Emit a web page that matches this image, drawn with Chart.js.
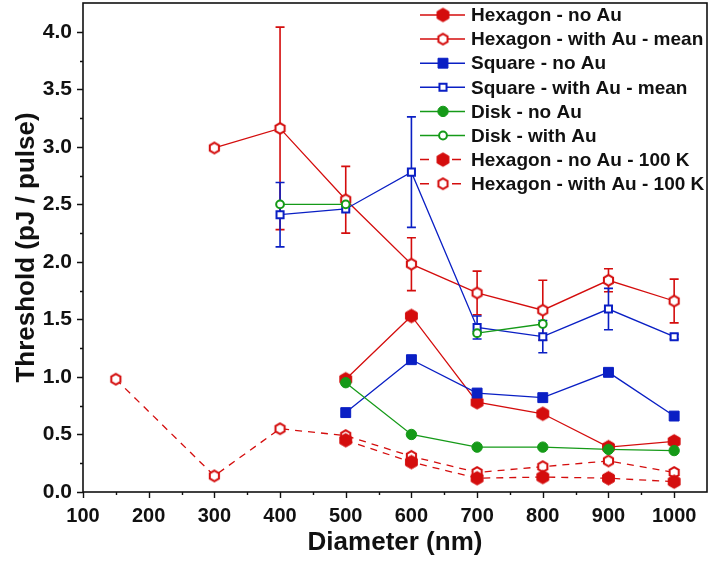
<!DOCTYPE html>
<html>
<head>
<meta charset="utf-8">
<script src="https://cdn.jsdelivr.net/npm/chart.js@4.4.1/dist/chart.umd.min.js"></script>
<style>
  html, body { margin: 0; padding: 0; background: #fff; }
</style>
</head>
<body>
<canvas id="threshold" width="709" height="565"></canvas>
<script>
// diameters shared by most series (nm)
const diam = [500, 600, 700, 800, 900, 1000];

// hexagon, no Au
const hexNoAu = [0.98, 1.53, 0.78, 0.68, 0.39, 0.44];
// hexagon with Au (mean +- error)
const hexAuX = [300, 400, 500, 600, 700, 800, 900, 1000];
const hexAu = [2.99, 3.16, 2.54, 1.98, 1.73, 1.58, 1.84, 1.66];
const hexAuErr = [0, 0.88, 0.29, 0.23, 0.19, 0.26, 0.10, 0.19];
// square, no Au
const sqNoAu = [0.69, 1.15, 0.86, 0.82, 1.04, 0.66];
// square with Au (mean +- error)
const sqAuX = [400, 500, 600, 700, 800, 900, 1000];
const sqAu = [2.41, 2.46, 2.78, 1.43, 1.35, 1.59, 1.35];
const sqAuErr = [0.28, 0, 0.48, 0.10, 0.14, 0.18, 0.02];
// disk
const diskNoAu = [0.95, 0.50, 0.39, 0.39, 0.37, 0.36];
const diskAuX = [400, 500, 600, 700, 800];
const diskAu = [2.50, 2.50, null, 1.38, 1.46];
// hexagon at 100 K
const hex100NoAu = [0.45, 0.26, 0.12, 0.13, 0.12, 0.09];
const hex100AuX = [150, 300, 400, 500, 600, 700, 800, 900, 1000];
const hex100Au = [0.98, 0.14, 0.55, 0.49, 0.31, 0.17, 0.22, 0.27, 0.17];

const xTicks = [100, 200, 300, 400, 500, 600, 700, 800, 900, 1000];
const yTicks = [0, 0.5, 1.0, 1.5, 2.0, 2.5, 3.0, 3.5, 4.0];

const RED = '#d40d0d';
const BLUE = '#0a1fc4';
const GREEN = '#159a18';
const FONT = '"Liberation Sans", Arial, sans-serif';

function pts(xs, ys) {
    return xs.map((x, i) => ({ x: x, y: ys[i] }));
}

// hexagon marker with vertices at top and bottom
function hexagon(r, color, filled) {
    let lw = filled ? 1 : 2;
    let size = Math.ceil(2 * r + lw + 2);
    let c = document.createElement('canvas');
    c.width = size;
    c.height = size;
    let g = c.getContext('2d');
    g.beginPath();
    for (let k = 0; k < 6; k++) {
        let a = Math.PI / 2 + k * Math.PI / 3;
        let px = size / 2 + r * Math.cos(a);
        let py = size / 2 - r * Math.sin(a);
        if (k == 0) g.moveTo(px, py); else g.lineTo(px, py);
    }
    g.closePath();
    g.fillStyle = filled ? color : '#fff';
    g.fill();
    g.lineWidth = lw;
    g.strokeStyle = color;
    g.stroke();
    return c;
}

const hexFull = hexagon(6.8, RED, true);
const hexOpen = hexagon(5.3, RED, false);

function series(label, data, color, style, radius, fill, opts) {
    return Object.assign({
        label: label,
        data: data,
        borderColor: color,
        backgroundColor: fill,
        pointBackgroundColor: fill,
        pointBorderColor: color,
        pointBorderWidth: fill == '#fff' ? 2 : 1,
        pointStyle: style,
        pointRadius: radius,
        pointHoverRadius: radius,
        borderWidth: 1.3,
        tension: 0,
        spanGaps: false,
        fill: false
    }, opts || {});
}

const datasets = [
    series('Hexagon - no Au', pts(diam, hexNoAu), RED, hexFull, 7, RED, { order: 3 }),
    series('Hexagon - with Au - mean', pts(hexAuX, hexAu), RED, hexOpen, 6, '#fff', { order: 3, errors: hexAuErr }),
    series('Square - no Au', pts(diam, sqNoAu), BLUE, 'rect', 7, BLUE, { order: 2 }),
    series('Square - with Au - mean', pts(sqAuX, sqAu), BLUE, 'rect', 5, '#fff', { order: 2, errors: sqAuErr }),
    series('Disk - no Au', pts(diam, diskNoAu), GREEN, 'circle', 5.2, GREEN, { order: 1 }),
    series('Disk - with Au', pts(diskAuX, diskAu), GREEN, 'circle', 3.9, '#fff', { order: 1 }),
    series('Hexagon - no Au - 100 K', pts(diam, hex100NoAu), RED, hexFull, 7, RED, { order: 4, borderDash: [7, 6] }),
    series('Hexagon - with Au - 100 K', pts(hex100AuX, hex100Au), RED, hexOpen, 6, '#fff', { order: 4, borderDash: [7, 6] })
];

// vertical error bars with caps, under the markers
const errorBars = {
    id: 'errorBars',
    beforeDatasetsDraw(chart) {
        let ctx = chart.ctx;
        let xs = chart.scales.x, ys = chart.scales.y;
        ctx.save();
        chart.data.datasets.forEach((ds) => {
            if (!ds.errors) return;
            ctx.strokeStyle = ds.borderColor;
            ctx.lineWidth = 1.6;
            ds.data.forEach((p, i) => {
                let e = ds.errors[i];
                if (!e || p.y == null) return;
                let px = xs.getPixelForValue(p.x);
                let top = ys.getPixelForValue(p.y + e);
                let bot = ys.getPixelForValue(p.y - e);
                ctx.beginPath();
                ctx.moveTo(px, top); ctx.lineTo(px, bot);
                ctx.moveTo(px - 4.5, top); ctx.lineTo(px + 4.5, top);
                ctx.moveTo(px - 4.5, bot); ctx.lineTo(px + 4.5, bot);
                ctx.stroke();
            });
        });
        ctx.restore();
    }
};

// box frame plus major and minor tick marks pointing outwards
const frameTicks = {
    id: 'frameTicks',
    afterDraw(chart) {
        let ctx = chart.ctx;
        let a = chart.chartArea;
        let xs = chart.scales.x, ys = chart.scales.y;
        ctx.save();
        ctx.strokeStyle = '#111';
        ctx.lineWidth = 1.6;
        ctx.strokeRect(a.left, a.top, a.right - a.left, a.bottom - a.top);
        ctx.lineWidth = 1.4;
        ctx.beginPath();
        for (let v = 100; v <= 1000; v += 50) {
            let px = Math.round(xs.getPixelForValue(v)) + 0.5;
            let len = v % 100 == 0 ? 6 : 3;
            ctx.moveTo(px, a.bottom); ctx.lineTo(px, a.bottom + len);
        }
        for (let k = 0; k <= 16; k++) {
            let py = Math.round(ys.getPixelForValue(k * 0.25)) + 0.5;
            let len = k % 2 == 0 ? 6 : 3;
            ctx.moveTo(a.left, py); ctx.lineTo(a.left - len, py);
        }
        ctx.stroke();
        ctx.restore();
    }
};

// legend drawn inside the plot, top right
const insideLegend = {
    id: 'insideLegend',
    afterDatasetsDraw(chart) {
        let ctx = chart.ctx;
        ctx.save();
        ctx.font = 'bold 19px ' + FONT;
        ctx.textBaseline = 'middle';
        chart.data.datasets.forEach((ds, i) => {
            let y = 15 + i * 24.1;
            ctx.strokeStyle = ds.borderColor;
            ctx.lineWidth = 1.5;
            ctx.beginPath();
            if (ds.borderDash) {
                ctx.moveTo(420, y); ctx.lineTo(429, y);
                ctx.moveTo(452, y); ctx.lineTo(461, y);
            } else {
                ctx.moveTo(420, y); ctx.lineTo(465, y);
            }
            ctx.stroke();
            ctx.fillStyle = ds.pointBackgroundColor;
            ctx.strokeStyle = ds.pointBorderColor;
            ctx.lineWidth = ds.pointBorderWidth;
            Chart.helpers.drawPoint(ctx, {
                pointStyle: ds.pointStyle,
                radius: ds.pointRadius,
                rotation: 0,
                borderWidth: ds.pointBorderWidth
            }, 443, y);
            ctx.fillStyle = '#111';
            ctx.fillText(ds.label, 471, y + 1);
        });
        ctx.restore();
    }
};

// keep the plot box flush with the canvas edges
function noEdgePadding(s) {
    s.paddingTop = 0;
    s.paddingBottom = 0;
    s.paddingLeft = 0;
    s.paddingRight = 0;
}

new Chart(document.getElementById('threshold'), {
    type: 'line',
    data: { datasets: datasets },
    plugins: [errorBars, frameTicks, insideLegend],
    options: {
        responsive: false,
        animation: false,
        events: [],
        layout: { autoPadding: false, padding: { top: 3, right: 2, left: 0, bottom: 0 } },
        plugins: {
            legend: { display: false },
            tooltip: { enabled: false }
        },
        scales: {
            x: {
                type: 'linear',
                min: 100,
                max: 1050,
                grid: { display: false, drawTicks: false },
                border: { display: false },
                afterBuildTicks: (s) => { s.ticks = xTicks.map(v => ({ value: v })); },
                afterFit: (s) => { s.height = 73; noEdgePadding(s); },
                ticks: {
                    autoSkip: false,
                    maxRotation: 0,
                    padding: 12,
                    color: '#111',
                    font: { family: FONT, size: 20, weight: 'bold' },
                    callback: (v) => String(v)
                },
                title: {
                    display: true,
                    text: 'Diameter (nm)',
                    color: '#111',
                    padding: { top: 0, bottom: 7 },
                    font: { family: FONT, size: 26, weight: 'bold' }
                }
            },
            y: {
                min: 0,
                max: 4.25,
                grid: { display: false, drawTicks: false },
                border: { display: false },
                afterBuildTicks: (s) => { s.ticks = yTicks.map(v => ({ value: v })); },
                afterFit: (s) => { s.width = 83; noEdgePadding(s); },
                ticks: {
                    padding: 11,
                    color: '#111',
                    font: { family: FONT, size: 21, weight: 'bold' },
                    callback: (v) => v.toFixed(1)
                },
                title: {
                    display: true,
                    text: 'Threshold (pJ / pulse)',
                    color: '#111',
                    padding: { top: 11, bottom: 0 },
                    font: { family: FONT, size: 26, weight: 'bold' }
                }
            }
        }
    }
});
</script>
</body>
</html>
